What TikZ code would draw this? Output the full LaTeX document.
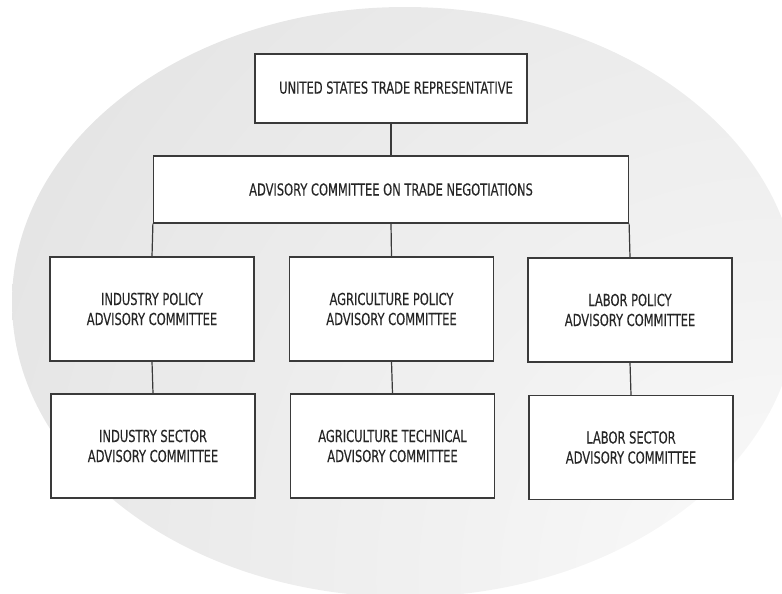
\documentclass[tikz,border=0pt]{standalone}
\usepackage{fontspec}
\setmainfont[FakeStretch=0.695,FakeBold=0.2]{DejaVu Sans}
\definecolor{linegray}{HTML}{3A3A3A}
\definecolor{textgray}{HTML}{262626}
\definecolor{bgA}{HTML}{FAFAFA}
\definecolor{bgB}{HTML}{F2F2F2}
\definecolor{bgC}{HTML}{E8E8E8}
\definecolor{bgD}{HTML}{DEDEDE}
\definecolor{bgE}{HTML}{D5D5D5}
\definecolor{bgF}{HTML}{D2D2D2}
\pgfdeclareradialshading{bgshade}{\pgfpoint{0bp}{0bp}}{color(0bp)=(bgA); color(8.3bp)=(bgB); color(20bp)=(bgC); color(30bp)=(bgD); color(41bp)=(bgE); color(50bp)=(bgF)}
\tikzset{
  orgbox/.style={draw=linegray, line width=1.2pt, fill=white, text=textgray,
    align=center, inner sep=0pt, font=\fontsize{16.5}{20}\selectfont},
  smallbox/.style={orgbox, minimum width=204pt, minimum height=104pt},
  link/.style={draw=linegray, line width=1.2pt}
}
\begin{document}
\begin{tikzpicture}[x=1pt,y=-1pt]
\useasboundingbox (0,0) rectangle (782,594);
% background ellipse
\begin{scope}
  \clip (405,302) ellipse [x radius=393, y radius=295];
  \shade[shading=bgshade] (780,580) circle [radius=900];
\end{scope}
% boxes
\node[orgbox, minimum width=272pt, minimum height=69pt] (usr) at (391,88.5) {\hspace*{10pt}\raisebox{2pt}{UNITED STATES TRADE REPRESENTATIVE}};
\node[orgbox, minimum width=475pt, minimum height=67pt] (actn) at (391,189.5) {ADVISORY COMMITTEE ON TRADE NEGOTIATIONS};
\node[smallbox] (ipac) at (152,309) {INDUSTRY POLICY\\ADVISORY COMMITTEE};
\node[smallbox] (apac) at (391.5,309) {AGRICULTURE POLICY\\ADVISORY COMMITTEE};
\node[smallbox] (lpac) at (630,310) {LABOR POLICY\\ADVISORY COMMITTEE};
\node[smallbox] (isac) at (153,446) {INDUSTRY SECTOR\\ADVISORY COMMITTEE};
\node[smallbox] (atac) at (392.5,446) {AGRICULTURE TECHNICAL\\ADVISORY COMMITTEE};
\node[smallbox] (lsac) at (631,447.5) {LABOR SECTOR\\ADVISORY COMMITTEE};
% connectors
\draw[link] (usr.south) -- (actn.north);
\draw[link] (actn.south west) -- (ipac.north);
\draw[link] (actn.south) -- (apac.north);
\draw[link] (actn.south east) -- (lpac.north);
\draw[link] (ipac.south) -- (isac.north);
\draw[link] (apac.south) -- (atac.north);
\draw[link] (lpac.south) -- (lsac.north);
\end{tikzpicture}
\end{document}
